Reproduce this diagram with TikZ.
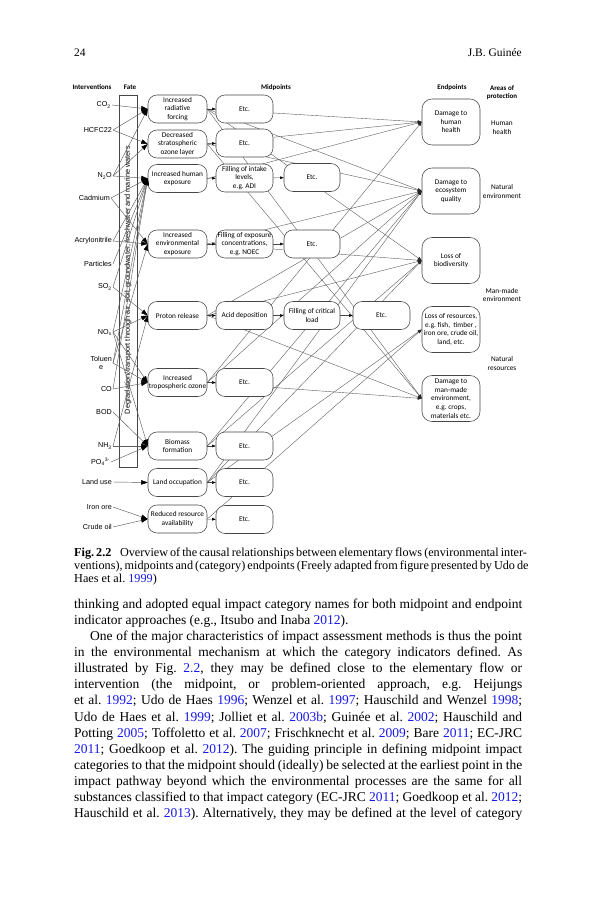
\documentclass[tikz,border=0pt]{standalone}
\usepackage{fontspec}
\setmainfont{Liberation Serif}
\newfontfamily\fcal{Carlito}
\newfontfamily\fari{Liberation Sans}
\usetikzlibrary{arrows.meta}
\pgfdeclarelayer{page}
\pgfdeclarelayer{bg}
\pgfsetlayers{page,bg,main}
\definecolor{refblue}{RGB}{25,25,235}
\definecolor{lngray}{RGB}{95,95,95}
\definecolor{bxgray}{RGB}{70,70,70}
\newcommand{\rb}[1]{\textcolor{refblue}{#1}}
\newcommand{\jl}[1]{\hbox to 448pt{#1}}
\newcommand{\jlin}[1]{\hbox to 432pt{#1}}
\frenchspacing
\begin{document}
\begin{tikzpicture}[x=1pt,y=-1pt,
  pbox/.style={draw=bxgray, line width=0.55pt, rounded corners=9pt, fill=white, align=center,
    font=\fcal\fontsize{7.3}{8.6}\selectfont, inner sep=0pt},
  c1/.style={pbox, minimum width=59pt, minimum height=28pt},
  c2/.style={pbox, minimum width=57pt, minimum height=28pt},
  c3/.style={pbox, minimum width=56pt, minimum height=28pt},
  epbox/.style={pbox, rounded corners=10pt, minimum width=58pt, minimum height=46pt, font=\fcal\fontsize{7.3}{8.6}\selectfont},
  lab/.style={font=\fari\fontsize{7.2}{8.3}\selectfont, inner sep=1pt, anchor=east},
  hdr/.style={font=\fcal\bfseries\fontsize{7}{8.6}\selectfont, inner sep=0pt, align=center},
  aop/.style={font=\fcal\fontsize{7.3}{8.6}\selectfont, inner sep=0pt, align=center},
  iline/.style={draw=lngray, line width=0.45pt, -{Triangle[length=6.5pt,width=4.5pt,color=black]}},
  mline/.style={draw=bxgray, line width=0.45pt, -{Triangle[length=3.5pt,width=2.5pt,color=black]}},
  eline/.style={draw=lngray, line width=0.4pt, -{Triangle[length=4pt,width=3pt,color=black!85]}},
  bodyl/.style={font=\fontsize{13.5}{16.2}\selectfont, inner sep=0pt, anchor=base west},
  capl/.style={font=\fontsize{12.2}{13.3}\selectfont, inner sep=0pt, anchor=base west}
]
\useasboundingbox (0,0) rectangle (593,900);
\begin{pgfonlayer}{page}
  \fill[white] (0,0) rectangle (593,900);
\end{pgfonlayer}

% page header
\node[font=\fontsize{11.5}{13}\selectfont, inner sep=0pt, anchor=base west] (pg) at (74,56) {24};
\node[font=\fontsize{11.5}{13}\selectfont, inner sep=0pt, anchor=base east] (au) at (522,56) {J.B. Guinée};

% column headers
\node[hdr] (hInt) at (92,87) {Interventions};
\node[hdr] (hFate) at (130,87) {Fate};
\node[hdr] (hMid) at (276,88) {Midpoints};
\node[hdr] (hEnd) at (452,88) {Endpoints};
\node[hdr] (hAoP) at (502,92.5) {Areas of\\protection};

% fate column
\node[draw=bxgray, line width=0.5pt, minimum width=18pt, minimum height=372pt, inner sep=0pt] (fate) at (128,281) {};
\node[rotate=90, inner sep=0pt, font=\fari] (fatetxt) at (128,280)
  {\resizebox{268pt}{!}{Degradation/transport through air, soil, groundwater, freshwater and marine waters}};

% interventions
\node[lab] (CO2) at (112,105) {CO\textsubscript{2}};
\node[lab] (HCFC) at (113,130) {HCFC22};
\node[lab] (N2O) at (113,176) {N\textsubscript{2}O};
\node[lab] (Cad) at (111,198) {Cadmium};
\node[lab] (Acr) at (113,241) {Acrylonitrile};
\node[lab] (Part) at (113,264) {Particles};
\node[lab] (SO2) at (113,287) {SO\textsubscript{2}};
\node[lab] (NOx) at (113,332) {NO\textsubscript{x}};
\node[lab, align=center] (Tol) at (113,363) {Toluen\\e};
\node[lab] (COx) at (113,389) {CO};
\node[lab] (BOD) at (113,412) {BOD};
\node[lab] (NH3) at (113,446) {NH\textsubscript{3}};
\node[lab] (PO4) at (111,462) {PO\textsubscript{4}\textsuperscript{3-}};
\node[lab] (Land) at (113,482) {Land use};
\node[lab] (Iron) at (113,507) {Iron ore};
\node[lab] (Crude) at (113,527) {Crude oil};

% column 1
\node[c1] (RF) at (177.5,109) {Increased\\radiative\\forcing};
\node[c1] (OZ) at (177.5,144) {Decreased\\stratospheric\\ozone layer};
\node[c1] (HE) at (177.5,178.5) {Increased human\\exposure};
\node[c1] (EE) at (177.5,244) {Increased\\environmental\\exposure};
\node[c1] (PR) at (177.5,315.5) {Proton release};
\node[c1] (TO) at (177.5,382.5) {Increased\\tropospheric ozone};
\node[c1] (BF) at (177.5,446) {Biomass\\formation};
\node[c1] (LO) at (177.5,482.5) {Land occupation};
\node[c1] (RR) at (177.5,519) {Reduced resource\\availability};

% column 2
\node[c2] (E1) at (244.5,109) {Etc.};
\node[c2] (E2) at (244.5,143) {Etc.};
\node[c2] (FI) at (244.5,178) {Filling of intake\\levels,\\e.g. ADI};
\node[c2] (FE) at (244.5,244) {Filling of exposure\\concentrations,\\e.g. NOEC};
\node[c2] (AD) at (244.5,315.5) {Acid deposition};
\node[c2] (E6) at (244.5,382.5) {Etc.};
\node[c2] (E7) at (244.5,446) {Etc.};
\node[c2] (E8) at (244.5,482.5) {Etc.};
\node[c2] (E9) at (244.5,519.5) {Etc.};

% column 3 and 4
\node[c3] (E3) at (312,177.5) {Etc.};
\node[c3] (E4) at (312,244) {Etc.};
\node[c3] (FCL) at (312,315.5) {Filling of critical\\load};
\node[c2] (E5) at (381.5,315.5) {Etc.};

% endpoints
\node[epbox] (HH) at (451,122) {Damage to\\human\\health};
\node[epbox] (EQ) at (451,191) {Damage to\\ecosystem\\quality};
\node[epbox] (BIO) at (451,260.5) {Loss of\\biodiversity};
\node[epbox] (LR) at (451,329.5) {Loss of resources,\\e.g. fish,~ timber ,\\iron ore, crude oil,\\land, etc.};
\node[epbox] (MM) at (451,398.5) {Damage to\\man-made\\environment,\\e.g. crops,\\materials etc.};

% areas of protection
\node[aop] (aHH) at (502,127.5) {Human\\health};
\node[aop] (aNE) at (502,191.5) {Natural\\environment};
\node[aop] (aMM) at (502,295) {Man-made\\environment};
\node[aop] (aNR) at (502,363.5) {Natural\\resources};

% connectors behind boxes
\begin{pgfonlayer}{bg}
  \draw[eline] (RF.east) -- (HH.west);
  \draw[eline] (RF.east) -- (EQ.west);
  \draw[eline] (RF.east) -- (BIO.west);
  \draw[eline] (RF.east) -- (MM.west);
  \draw[eline] (OZ.east) -- (HH.west);
  \draw[eline] (OZ.east) -- (EQ.west);
  \draw[eline] (OZ.east) -- (MM.west);
  \draw[eline] (HE.east) -- (HH.west);
  \draw[eline] (EE.east) -- (EQ.west);
  \draw[eline] (EE.east) -- (BIO.west);
  \draw[eline] (PR.east) -- (EQ.west);
  \draw[eline] (PR.east) -- (BIO.west);
  \draw[eline] (PR.east) -- (MM.west);
  \draw[eline] (TO.east) -- (HH.west);
  \draw[eline] (TO.east) -- (EQ.west);
  \draw[eline] (TO.east) -- (MM.west);
  \draw[eline] (BF.east) -- (EQ.west);
  \draw[eline] (BF.east) -- (BIO.west);
  \draw[eline] (LO.east) -- (EQ.west);
  \draw[eline] (LO.east) -- (BIO.west);
  \draw[eline] (LO.east) -- (LR.west);
  \draw[eline] (RR.east) -- (LR.west);
\end{pgfonlayer}

% interventions to first midpoints
\draw[iline] (CO2.east) -- (RF.west);
\draw[iline] (HCFC.east) -- (RF.west);
\draw[iline] (HCFC.east) -- (OZ.west);
\draw[iline] (N2O.east) -- (RF.west);
\draw[iline] (N2O.east) -- (OZ.west);
\draw[iline] (N2O.east) -- (HE.west);
\draw[iline] (Cad.east) -- (HE.west);
\draw[iline] (Cad.east) -- (EE.west);
\draw[iline] (Acr.east) -- (HE.west);
\draw[iline] (Acr.east) -- (EE.west);
\draw[iline] (Part.east) -- (HE.west);
\draw[iline] (SO2.east) -- (HE.west);
\draw[iline] (SO2.east) -- (PR.west);
\draw[iline] (NOx.east) -- (HE.west);
\draw[iline] (NOx.east) -- (PR.west);
\draw[iline] (NOx.east) -- (TO.west);
\draw[iline] (NOx.east) -- (BF.west);
\draw[iline] (Tol.east) -- (HE.west);
\draw[iline] (Tol.east) -- (EE.west);
\draw[iline] (Tol.east) -- (TO.west);
\draw[iline] (COx.east) -- (HE.west);
\draw[iline] (COx.east) -- (TO.west);
\draw[iline] (BOD.east) -- (BF.west);
\draw[iline] (NH3.east) -- (PR.west);
\draw[iline] (NH3.east) -- (BF.west);
\draw[iline] (PO4.east) -- (BF.west);
\draw[iline] (Land.east) -- (LO.west);
\draw[iline] (Iron.east) -- (RR.west);
\draw[iline] (Crude.east) -- (RR.west);

% chains
\draw[mline] (RF) -- (E1);
\draw[mline] (OZ) -- (E2);
\draw[mline] (HE) -- (FI);
\draw[mline] (FI) -- (E3);
\draw[mline] (EE) -- (FE);
\draw[mline] (FE) -- (E4);
\draw[mline] (PR) -- (AD);
\draw[mline] (AD) -- (FCL);
\draw[mline] (FCL) -- (E5);
\draw[mline] (TO) -- (E6);
\draw[mline] (BF) -- (E7);
\draw[mline] (LO) -- (E8);
\draw[mline] (RR) -- (E9);

% caption
\node[capl] (cap1) at (74,556) {\hbox to 448pt{\textbf{Fig. 2.2}\hspace{0.7em}Overview of the causal relationships between elementary flows (environmental inter-}};
\node[capl] (cap2) at (74,569.3) {\hbox to 448pt{ventions), midpoints and (category) endpoints (Freely adapted from figure presented by Udo de}};
\node[capl] (cap3) at (74,582.6) {Haes et al. \rb{1999})};

% body text
\node[bodyl] (b1) at (74,608) {\jl{thinking and adopted equal impact category names for both midpoint and endpoint}};
\node[bodyl] (b2) at (74,624.15) {indicator approaches (e.g., Itsubo and Inaba \rb{2012}).};
\node[bodyl] (b3) at (90,640.3) {\jlin{One of the major characteristics of impact assessment methods is thus the point}};
\node[bodyl] (b4) at (74,656.45) {\jl{in the environmental mechanism at which the category indicators defined. As}};
\node[bodyl] (b5) at (74,672.6) {\jl{illustrated by Fig. \rb{2.2}, they may be defined close to the elementary flow or}};
\node[bodyl] (b6) at (74,688.75) {\jl{intervention (the midpoint, or problem-oriented approach, e.g. Heijungs}};
\node[bodyl] (b7) at (74,704.9) {\jl{et al. \rb{1992}; Udo de Haes \rb{1996}; Wenzel et al. \rb{1997}; Hauschild and Wenzel \rb{1998};}};
\node[bodyl] (b8) at (74,721.05) {\jl{Udo de Haes et al. \rb{1999}; Jolliet et al. \rb{2003b}; Guinée et al. \rb{2002}; Hauschild and}};
\node[bodyl] (b9) at (74,737.2) {\jl{Potting \rb{2005}; Toffoletto et al. \rb{2007}; Frischknecht et al. \rb{2009}; Bare \rb{2011}; EC-JRC}};
\node[bodyl] (b10) at (74,753.35) {\jl{\rb{2011}; Goedkoop et al. \rb{2012}). The guiding principle in defining midpoint impact}};
\node[bodyl] (b11) at (74,769.5) {\jl{categories to that the midpoint should (ideally) be selected at the earliest point in the}};
\node[bodyl] (b12) at (74,785.65) {\jl{impact pathway beyond which the environmental processes are the same for all}};
\node[bodyl] (b13) at (74,801.8) {\jl{substances classified to that impact category (EC-JRC \rb{2011}; Goedkoop et al. \rb{2012};}};
\node[bodyl] (b14) at (74,817.95) {\jl{Hauschild et al. \rb{2013}). Alternatively, they may be defined at the level of category}};
\end{tikzpicture}
\end{document}
